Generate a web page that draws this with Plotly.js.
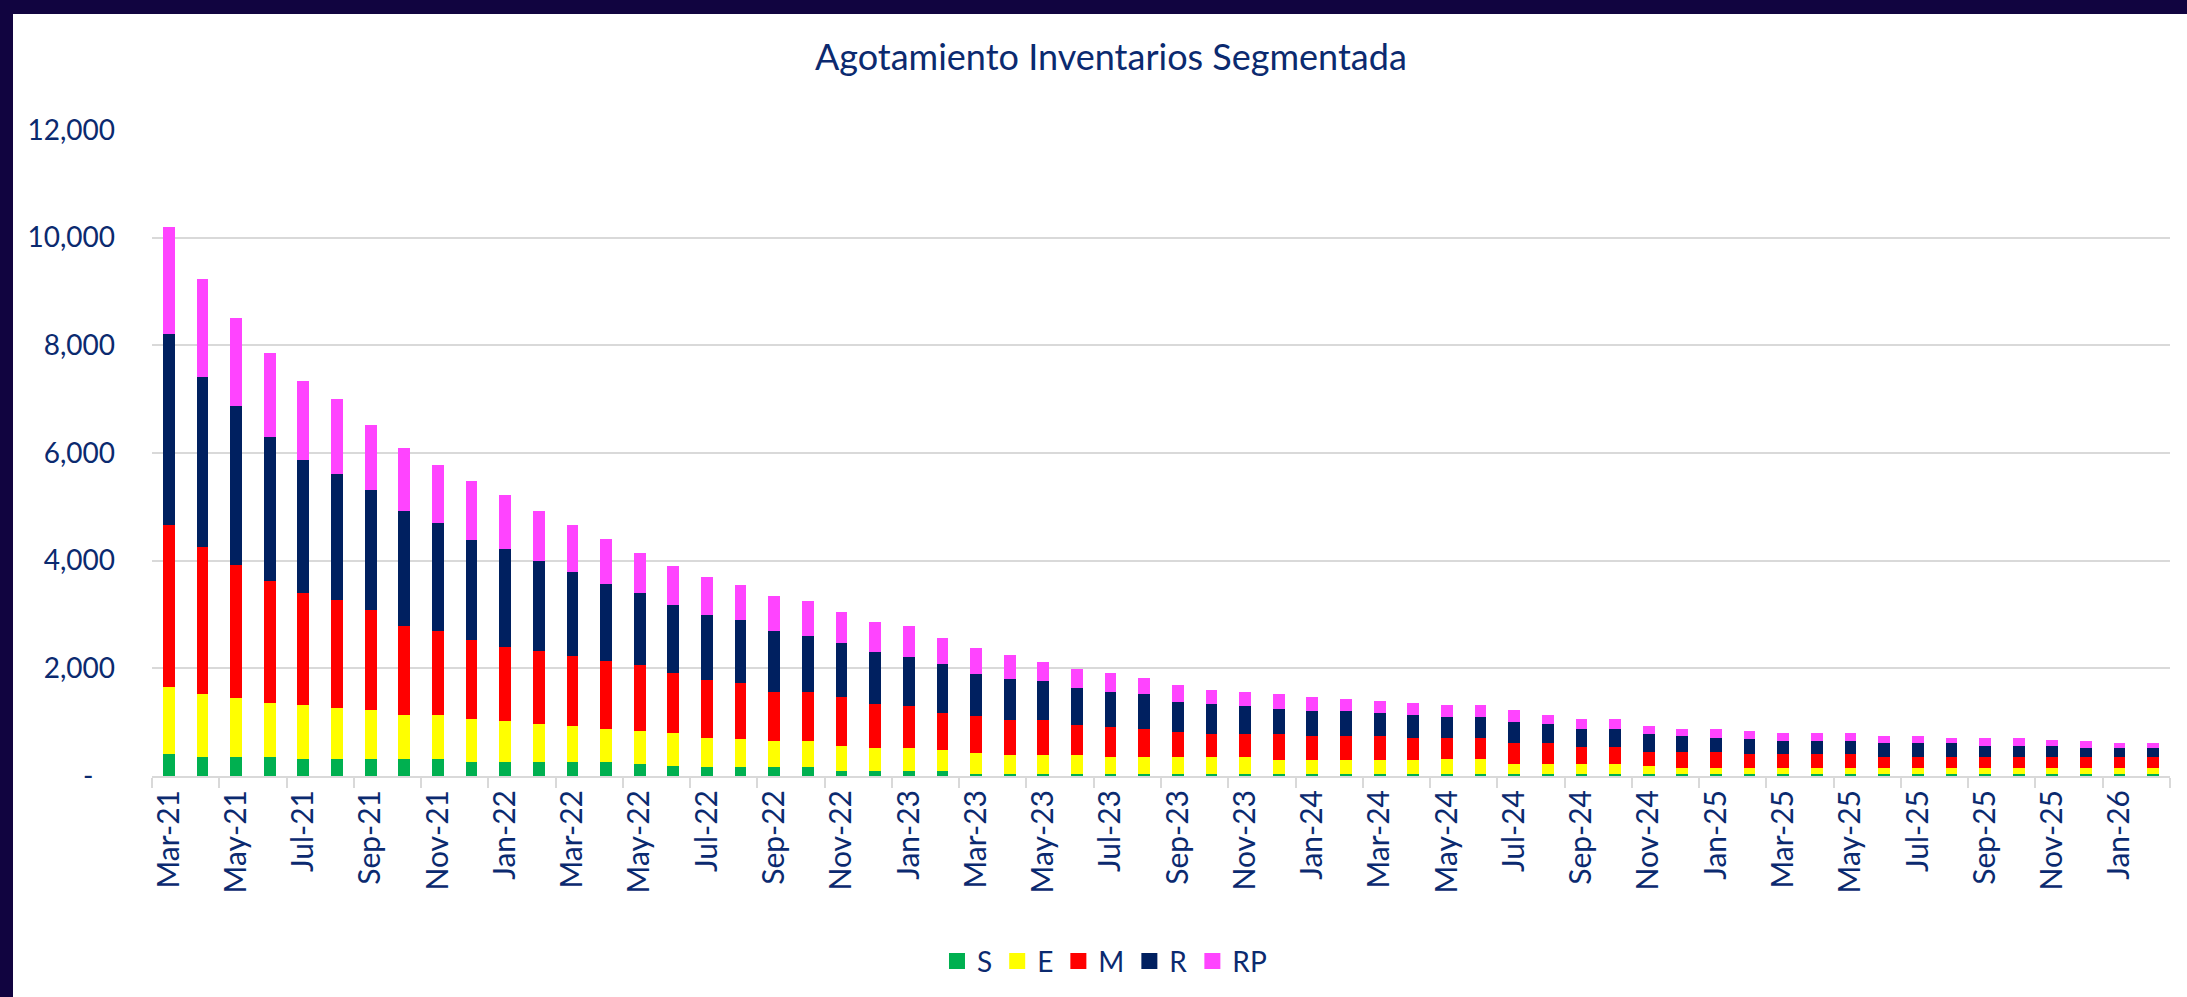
<!DOCTYPE html>
<html>
<head>
<meta charset="utf-8">
<script src="https://cdn.plot.ly/plotly-3.0.1.min.js"></script>
<style>
  html, body { margin: 0; padding: 0; background: #110440; width: 2187px; height: 997px; overflow: hidden; }
  #plot { position: absolute; left: 13px; top: 14px; width: 2174px; height: 983px; background: #ffffff; }
</style>
</head>
<body>
<div id="plot"></div>
<script>
// Months Mar-21 .. Feb-26
const months = [
  "Mar-21","Apr-21","May-21","Jun-21","Jul-21","Aug-21","Sep-21","Oct-21","Nov-21","Dec-21",
  "Jan-22","Feb-22","Mar-22","Apr-22","May-22","Jun-22","Jul-22","Aug-22","Sep-22","Oct-22","Nov-22","Dec-22",
  "Jan-23","Feb-23","Mar-23","Apr-23","May-23","Jun-23","Jul-23","Aug-23","Sep-23","Oct-23","Nov-23","Dec-23",
  "Jan-24","Feb-24","Mar-24","Apr-24","May-24","Jun-24","Jul-24","Aug-24","Sep-24","Oct-24","Nov-24","Dec-24",
  "Jan-25","Feb-25","Mar-25","Apr-25","May-25","Jun-25","Jul-25","Aug-25","Sep-25","Oct-25","Nov-25","Dec-25",
  "Jan-26","Feb-26"
];

// Segment values
const S = [400,360,360,360,315,310,310,310,310,265,265,265,265,265,230,185,170,170,170,170,
  85,85,85,85,40,40,40,40,40,40,40,40,40,40,40,40,40,45,45,45,
  45,45,45,45,45,45,45,45,45,45,45,45,45,45,45,45,45,45,45,45];
const E = [1255,1170,1080,1000,995,960,915,830,830,790,750,705,655,610,605,605,530,525,475,475,
  475,435,435,390,390,345,345,345,305,305,305,305,305,260,260,260,260,260,270,270,
  185,185,185,185,135,95,95,95,95,95,95,95,95,95,95,95,95,95,95,95];
const M = [3000,2730,2480,2255,2085,1995,1865,1655,1560,1475,1390,1345,1305,1255,1225,1125,1080,1040,915,915,
  915,820,785,690,690,655,655,560,560,520,475,440,440,480,440,440,440,395,390,390,
  390,390,310,310,265,305,305,260,260,260,260,215,215,215,215,215,215,215,215,215];
const R = [3555,3150,2950,2690,2470,2340,2215,2120,1995,1860,1810,1680,1560,1435,1335,1260,1215,1165,1125,1035,
  995,955,900,910,780,770,730,690,650,650,560,555,515,470,470,470,425,430,390,390,
  390,340,340,340,340,300,255,295,255,255,255,255,255,255,210,210,210,165,165,165];
const RP = [1995,1820,1630,1545,1475,1395,1210,1175,1090,1085,1005,920,870,830,740,735,695,655,655,655,
  570,570,575,485,480,440,350,350,355,310,310,265,265,265,265,225,225,220,225,225,
  215,180,175,175,145,130,180,135,135,135,135,135,135,90,135,135,95,135,85,85];

const seriesNames = ["S", "E", "M", "R", "RP"];
const seriesColors = ["#00b050", "#ffff00", "#ff0000", "#002060", "#ff44ff"];
const seriesValues = [S, E, M, R, RP];

const yTickVals = [0, 2000, 4000, 6000, 8000, 10000, 12000];
const yTickText = ["-\u00a0\u00a0\u00a0", "2,000", "4,000", "6,000", "8,000", "10,000", "12,000"];

const textBlue = "#0b2a6f";
const gridGrey = "#d9d9d9";

const bars = seriesNames.map((name, i) => ({
  x: months,
  y: seriesValues[i],
  name: name,
  type: "bar",
  showlegend: false,
  legendgroup: name,
  marker: { color: seriesColors[i], line: { width: 0 } },
}));

// legend-only entries, so the swatches can be as big as Excel's
const legendKeys = seriesNames.map((name, i) => ({
  x: [null],
  y: [null],
  name: name,
  type: "scatter",
  mode: "markers",
  legendgroup: name,
  marker: { symbol: "square", size: 17, color: seriesColors[i] },
}));

const layout = {
  width: 2174,
  height: 983,
  barmode: "stack",
  bargap: 0.65,
  margin: { l: 139, r: 17, t: 116, b: 220 },
  paper_bgcolor: "#ffffff",
  plot_bgcolor: "#ffffff",
  title: {
    text: "Agotamiento Inventarios Segmentada",
    font: { family: "Lato, sans-serif", size: 36, color: textBlue },
    x: 0.505,
    xanchor: "center",
    y: 0.956,
    yanchor: "middle",
  },
  xaxis: {
    type: "category",
    tickangle: -90,
    dtick: 2,
    ticks: "outside",
    tickson: "boundaries",
    ticklen: 10,
    tickwidth: 2,
    tickcolor: gridGrey,
    showline: true,
    linecolor: gridGrey,
    linewidth: 2,
    showgrid: false,
    automargin: false,
    tickfont: { family: "Lato, sans-serif", size: 30, color: textBlue },
    fixedrange: true,
  },
  yaxis: {
    range: [0, 12000],
    tickvals: yTickVals,
    ticktext: yTickText,
    showgrid: true,
    gridcolor: gridGrey,
    gridwidth: 2,
    zeroline: false,
    showline: false,
    ticks: "",
    automargin: false,
    ticklabelstandoff: 36,
    tickfont: { family: "Lato, sans-serif", size: 28, color: textBlue },
    fixedrange: true,
  },
  showlegend: true,
  legend: {
    orientation: "h",
    traceorder: "normal",
    itemsizing: "trace",
    x: 0.472,
    xanchor: "center",
    y: -0.285,
    yanchor: "middle",
    font: { family: "Lato, sans-serif", size: 28, color: textBlue },
  },
};

Plotly.newPlot("plot", bars.concat(legendKeys), layout, { displayModeBar: false, staticPlot: true });
</script>
</body>
</html>
